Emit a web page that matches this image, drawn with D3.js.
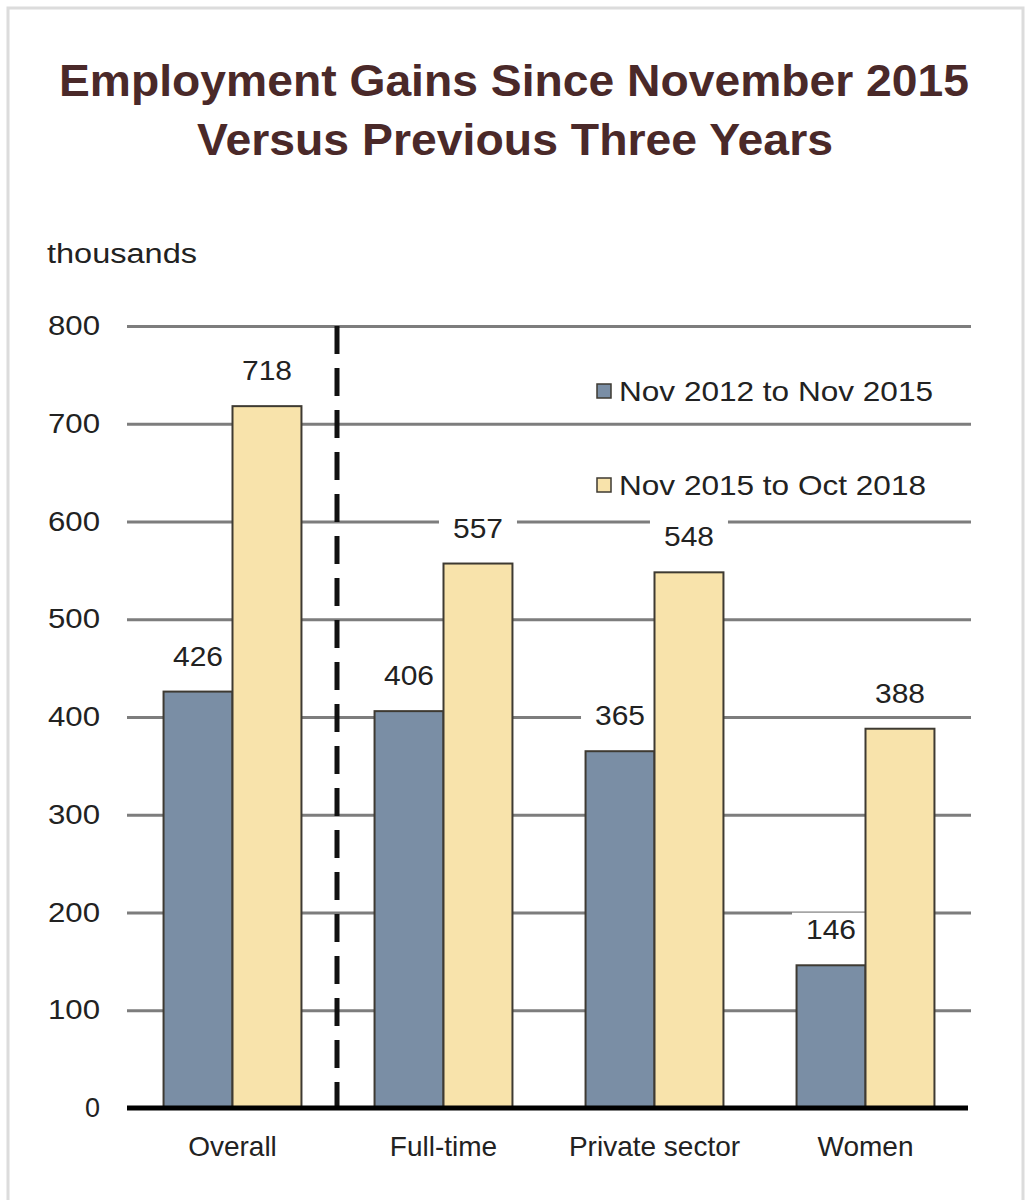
<!DOCTYPE html>
<html><head><meta charset="utf-8">
<script src="https://cdn.jsdelivr.net/npm/d3@7"></script>
<style>
html,body{margin:0;padding:0;background:#fff;}
svg{display:block;}
text{font-family:"Liberation Sans",Arial,sans-serif;}
</style></head>
<body>
<svg id="c" width="1033" height="1200"></svg>
<script>
const categories = ["Overall", "Full-time", "Private sector", "Women"];
const seriesNames = ["Nov 2012 to Nov 2015", "Nov 2015 to Oct 2018"];
const series1 = [426, 406, 365, 146];
const series2 = [718, 557, 548, 388];
const yTicks = [0, 100, 200, 300, 400, 500, 600, 700, 800];
const colors = ["#7a8ea5", "#f8e3ab"];

(function(){
const svg = d3.select("#c");

// frame
svg.append("path").attr("d","M8,1200 L8,8 L1023,8 L1023,1200")
  .attr("fill","none").attr("stroke","#dcdcdc").attr("stroke-width",3);

// title
const title = svg.append("g").attr("fill","#4a2929").attr("font-weight","bold").attr("text-anchor","middle");
title.append("text").attr("x",514).attr("y",96).attr("font-size",45)
  .attr("textLength",910).attr("lengthAdjust","spacingAndGlyphs")
  .text("Employment Gains Since November 2015");
title.append("text").attr("x",515).attr("y",155).attr("font-size",45)
  .attr("textLength",636).attr("lengthAdjust","spacingAndGlyphs")
  .text("Versus Previous Three Years");

const pL = 127, pR = 971, pT = 326, pB = 1108;
const y = d3.scaleLinear().domain([0,800]).range([pB, pT]);
const x0 = d3.scaleBand().domain(categories).range([pL, pR]).padding(0);
const x1 = d3.scaleBand().domain(seriesNames).range([0, x0.bandwidth()]).paddingInner(0).paddingOuter(0.53);

// unit label
svg.append("text").attr("x",47).attr("y",263).attr("font-size",27).attr("fill","#222")
  .attr("textLength",150).attr("lengthAdjust","spacingAndGlyphs").text("thousands");

// gridlines + tick labels via axis
const axis = d3.axisLeft(y).tickValues(yTicks).tickSize(-(pR-pL)).tickPadding(0).tickFormat(d3.format("d"));
const ag = svg.append("g").attr("transform",`translate(${pL},0)`).call(axis);
ag.select(".domain").remove();
ag.selectAll(".tick line").attr("stroke","#7d7d7d").attr("stroke-width",3);
ag.selectAll(".tick text").attr("x",-27).attr("font-size",27).attr("fill","#222")
  .attr("font-family","Liberation Sans, Arial, sans-serif")
  .attr("textLength",52).attr("lengthAdjust","spacingAndGlyphs");
ag.selectAll(".tick").filter(d=>d===0).select("text").attr("textLength",null);
ag.selectAll(".tick").filter(d=>d===0).select("line").attr("stroke","none");

const data = categories.map((c,i)=>({cat:c, vals:[series1[i], series2[i]]}));
const items = d=>d.vals.map((v,j)=>({name:seriesNames[j], v, j}));

// label backgrounds (mask gridlines), under bars
const bgGroups = svg.append("g").selectAll("g").data(data).join("g")
  .attr("transform",d=>`translate(${x0(d.cat)},0)`);
bgGroups.selectAll("rect").data(items).join("rect")
  .attr("x",d=>x1(d.name)+x1.bandwidth()/2-39).attr("y",d=>y(d.v)-52.6)
  .attr("width",78).attr("height",36).attr("fill","#fff");

// dashed separator
svg.append("line").attr("x1",x0("Full-time")-1).attr("x2",x0("Full-time")-1)
  .attr("y1",y(800)).attr("y2",y(0)).attr("stroke","#111").attr("stroke-width",5)
  .attr("stroke-dasharray","28,14");

// bars
const groups = svg.append("g").selectAll("g").data(data).join("g")
  .attr("transform",d=>`translate(${x0(d.cat)},0)`);
groups.selectAll("rect").data(items).join("rect")
  .attr("x",d=>x1(d.name)).attr("width",x1.bandwidth())
  .attr("y",d=>y(d.v)).attr("height",d=>y(0)-y(d.v))
  .attr("fill",d=>colors[d.j]).attr("stroke","#3e3a32").attr("stroke-width",2);

// value labels
groups.selectAll("text").data(items).join("text")
  .attr("x",d=>x1(d.name)+x1.bandwidth()/2).attr("y",d=>y(d.v)-26)
  .attr("text-anchor","middle").attr("font-size",28).attr("fill","#222")
  .attr("textLength",50).attr("lengthAdjust","spacingAndGlyphs").text(d=>d.v);

// zero line
svg.append("line").attr("x1",pL).attr("x2",pR-3).attr("y1",y(0)).attr("y2",y(0))
  .attr("stroke","#000").attr("stroke-width",5);

// category labels
svg.append("g").selectAll("text").data(categories).join("text")
  .attr("x",d=>x0(d)+x0.bandwidth()/2).attr("y",1156).attr("text-anchor","middle")
  .attr("font-size",28).attr("fill","#222").text(d=>d);

// legend
const leg = svg.append("g").selectAll("g").data(seriesNames).join("g")
  .attr("transform",(d,i)=>`translate(597,${391+i*94})`);
leg.append("rect").attr("x",0).attr("y",-7).attr("width",14).attr("height",14)
  .attr("fill",(d,i)=>colors[i]).attr("stroke","#3e3a32").attr("stroke-width",1.5);
leg.append("text").attr("x",22).attr("y",10).attr("font-size",28).attr("fill","#222")
  .attr("textLength",(d,i)=>i===0?314:307).attr("lengthAdjust","spacingAndGlyphs").text(d=>d);
})();
</script>
</body></html>
